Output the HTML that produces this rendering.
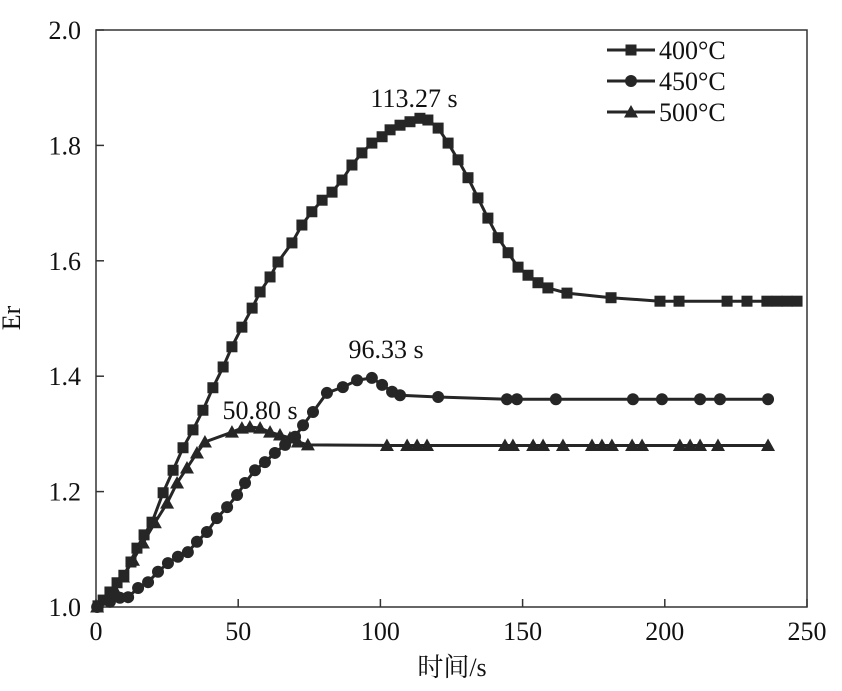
<!DOCTYPE html>
<html><head><meta charset="utf-8">
<style>
html,body{margin:0;padding:0;background:#fff;}
svg{display:block;font-family:"Liberation Serif","Noto Serif CJK SC",serif;}
</style></head>
<body>
<svg id="chart" width="842" height="691" viewBox="0 0 842 691">
<rect x="96" y="30" width="711" height="577" fill="none" stroke="#333" stroke-width="1.5"/>
<g id="axes"></g>
<g id="series"></g>
<text x="20" y="318" font-size="26" text-anchor="middle" transform="rotate(-90 20 318)" fill="#111">Er</text>
<text x="452" y="676" font-size="26" text-anchor="middle" fill="#111" font-family="Liberation Serif, Noto Serif CJK SC, serif">时间/s</text>
<text x="414" y="107" font-size="26" text-anchor="middle" fill="#111">113.27 s</text>
<text x="386" y="358" font-size="26" text-anchor="middle" fill="#111">96.33 s</text>
<text x="260" y="419" font-size="26" text-anchor="middle" fill="#111">50.80 s</text>
<g id="legend"></g>
</svg>
<script>
const xTicks=[0,50,100,150,200,250];
const yTicks=[1.0,1.2,1.4,1.6,1.8,2.0];
const t400=[0.7,2.5,4.9,7.4,9.8,12.3,14.4,16.9,19.7,23.6,27.1,30.6,34.1,37.6,41.1,44.7,47.8,51.3,54.9,57.7,61.2,64.0,68.9,72.4,75.9,79.5,83.0,86.5,90.0,93.5,97.0,100.6,103.4,106.9,110.4,113.9,116.7,120.3,123.8,127.3,130.8,134.3,137.8,141.4,144.9,148.4,151.9,155.4,158.9,165.6,181.1,198.3,205.0,221.9,228.9,235.9,239.5,243.0,246.5];
const er400=[1.002,1.012,1.026,1.042,1.055,1.078,1.102,1.125,1.147,1.198,1.237,1.276,1.307,1.341,1.380,1.416,1.451,1.485,1.518,1.546,1.572,1.598,1.631,1.662,1.685,1.705,1.719,1.740,1.766,1.787,1.804,1.815,1.827,1.835,1.841,1.847,1.844,1.830,1.804,1.775,1.744,1.709,1.674,1.640,1.614,1.589,1.575,1.562,1.553,1.544,1.536,1.530,1.530,1.530,1.530,1.530,1.530,1.530,1.530];
const t450=[0.4,4.9,8.4,11.3,14.8,18.3,21.8,25.3,28.8,32.3,35.5,39.0,42.5,46.1,49.6,52.4,55.9,59.4,62.9,66.5,70.0,72.8,76.3,81.2,86.8,91.8,97.0,100.6,104.1,106.9,120.3,144.5,148.0,161.7,188.8,199.0,212.4,219.4,236.3];
const er450=[1.0,1.009,1.016,1.017,1.033,1.043,1.061,1.076,1.087,1.095,1.113,1.130,1.154,1.173,1.194,1.215,1.237,1.251,1.267,1.281,1.295,1.315,1.338,1.371,1.381,1.393,1.397,1.385,1.373,1.367,1.364,1.360,1.360,1.360,1.360,1.360,1.360,1.360,1.360];
const t500=[0.4,4.2,6.7,9.5,13.0,16.5,20.7,25.0,28.5,32.0,35.5,38.3,47.8,51.3,54.1,57.7,61.2,64.7,68.2,71.0,74.5,102.3,109.4,112.9,116.4,143.8,146.6,153.7,157.2,164.2,174.4,177.9,181.4,188.5,192.0,205.3,208.9,212.4,218.7,236.3];
const er500=[1.0,1.017,1.029,1.052,1.081,1.111,1.146,1.180,1.215,1.241,1.267,1.286,1.303,1.310,1.312,1.310,1.303,1.298,1.293,1.286,1.281,1.280,1.280,1.280,1.280,1.280,1.280,1.280,1.280,1.280,1.280,1.280,1.280,1.280,1.280,1.280,1.280,1.280,1.280,1.280];
const seriesNames=["400°C","450°C","500°C"];

const NS="http://www.w3.org/2000/svg";
const X=v=>96+(v-0)/250*711;
const Y=v=>607-(v-1.0)/1.0*577;
function mk(tag,attrs,parent){const e=document.createElementNS(NS,tag);for(const k in attrs)e.setAttribute(k,attrs[k]);parent.appendChild(e);return e;}
const axes=document.getElementById('axes');
xTicks.forEach(v=>{
  const l=mk('line',{x1:X(v),x2:X(v),y1:607,y2:599,stroke:'#333','stroke-width':1.5},axes);
  
  
  const t=mk('text',{x:X(v),y:640,'font-size':26,'text-anchor':'middle',fill:'#111'},axes);
  t.textContent=v;
  
  
});
yTicks.forEach(v=>{
  const l=mk('line',{x1:96,x2:104,y1:Y(v),y2:Y(v),stroke:'#333','stroke-width':1.5},axes);
  
  
  const t=mk('text',{x:81,y:Y(v)+9,'font-size':26,'text-anchor':'end',fill:'#111'},axes);
  t.textContent=v.toFixed(1);
  
  
});
const C='#262626';
function marker(kind,cx,cy,parent){
  let e;
  if(kind==='sq') e=mk('rect',{x:cx-5.5,y:cy-5.5,width:11,height:11,fill:C},parent);
  else if(kind==='ci') e=mk('circle',{cx:cx,cy:cy,r:6,fill:C},parent);
  else e=mk('polygon',{points:`${cx},${cy-7} ${cx-7},${cy+5.5} ${cx+7},${cy+5.5}`,fill:C},parent);
  return e;
}
const sg=document.getElementById('series');
[[t400,er400,'sq','series-400c'],[t450,er450,'ci','series-450c'],[t500,er500,'tr','series-500c']].forEach(([ts,es,k,n])=>{
  const g=mk('g',{},sg);
  
  
  const p=mk('polyline',{points:ts.map((t,i)=>X(t)+','+Y(es[i])).join(' '),fill:'none',stroke:C,'stroke-width':3},g);
  
  
  ts.forEach((t,i)=>{
    const m=marker(k,X(t),Y(es[i]),g);
    
    
  });
});
const lg=document.getElementById('legend');
['sq','ci','tr'].forEach((k,i)=>{
  const y=50+i*31;
  const g=mk('g',{},lg);
  
  
  mk('line',{x1:607,x2:655,y1:y,y2:y,stroke:C,'stroke-width':3},g);
  marker(k,631,y,g);
  const t=mk('text',{x:659,y:y+9,'font-size':26,fill:'#111'},g);
  t.textContent=seriesNames[i];
});
</script>
</body></html>
